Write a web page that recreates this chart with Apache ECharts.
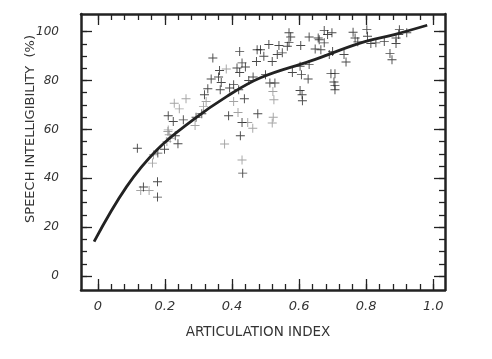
<!DOCTYPE html>
<html>
<head>
<meta charset="utf-8">
<script src="https://cdn.jsdelivr.net/npm/echarts@6/dist/echarts.min.js"></script>
<style>
  html, body { margin: 0; padding: 0; background: #fff; }
  #chart { width: 492px; height: 359px; }
</style>
</head>
<body>
<div id="chart"></div>
<script>
// tick labels
const X_TICKS = [0, 0.2, 0.4, 0.6, 0.8, 1.0];
const X_LABELS = ['0', '0.2', '0.4', '0.6', '0.8', '1.0'];
const Y_TICKS = [0, 20, 40, 60, 80, 100];

// measured points, dark crosses  [articulation index, intelligibility %]
const darkPoints = [
  [0.343, 89.2], [0.363, 84.1], [0.360, 81.4], [0.338, 80.6], [0.368, 79.2],
  [0.328, 76.6], [0.365, 76.2], [0.318, 74.2], [0.210, 65.6], [0.225, 63.2],
  [0.255, 63.9], [0.293, 65.0], [0.310, 66.4], [0.231, 57.4], [0.239, 54.1],
  [0.118, 52.3], [0.199, 51.9], [0.179, 50.3], [0.178, 38.6], [0.136, 36.4],
  [0.178, 32.3], [0.390, 65.6], [0.477, 66.4], [0.430, 62.8], [0.425, 57.4],
  [0.432, 42.1], [0.570, 99.5], [0.575, 97.8], [0.570, 95.6], [0.630, 97.8],
  [0.657, 97.4], [0.510, 94.7], [0.540, 94.3], [0.565, 94.0], [0.605, 94.3],
  [0.648, 92.9], [0.423, 91.9], [0.475, 92.6], [0.485, 92.6], [0.550, 91.3],
  [0.495, 89.9], [0.535, 90.6], [0.473, 87.8], [0.520, 87.8], [0.430, 87.2],
  [0.415, 85.1], [0.440, 85.5], [0.423, 83.3], [0.500, 82.4], [0.463, 81.4],
  [0.450, 80.0], [0.405, 78.3], [0.393, 76.9], [0.420, 76.2], [0.513, 79.0],
  [0.528, 79.0], [0.603, 85.8], [0.630, 86.5], [0.580, 83.3], [0.607, 82.4],
  [0.627, 80.6], [0.603, 75.9], [0.609, 74.2], [0.610, 71.7], [0.437, 72.5],
  [0.675, 100.5], [0.698, 99.5], [0.685, 98.8], [0.660, 96.7], [0.675, 95.4],
  [0.665, 92.6], [0.761, 99.7], [0.767, 97.4], [0.775, 95.8], [0.802, 100.8],
  [0.804, 98.1], [0.814, 95.1], [0.829, 95.4], [0.854, 96.0], [0.899, 100.8],
  [0.897, 98.8], [0.889, 97.4], [0.921, 99.5], [0.889, 95.1], [0.871, 91.0],
  [0.877, 88.5], [0.700, 91.9], [0.690, 90.6], [0.734, 90.6], [0.740, 87.6],
  [0.695, 82.8], [0.707, 82.8], [0.704, 79.4], [0.707, 78.0], [0.707, 76.2]
];

// measured points, light crosses
const lightPoints = [
  [0.263, 72.5], [0.228, 70.7], [0.243, 68.4], [0.323, 71.4], [0.315, 69.3],
  [0.290, 61.6], [0.210, 59.8], [0.209, 59.1], [0.213, 57.8], [0.216, 56.4],
  [0.206, 55.0], [0.166, 49.6], [0.163, 46.2], [0.128, 35.0], [0.153, 35.0],
  [0.378, 54.0], [0.418, 66.9], [0.523, 65.0], [0.520, 62.6], [0.447, 62.8],
  [0.462, 60.5], [0.430, 47.5], [0.383, 84.7], [0.522, 75.5], [0.525, 72.1],
  [0.405, 71.4]
];

// fitted curve
const curvePoints = [
  [-0.011, 14.1], [0.086, 36.6], [0.176, 51.6], [0.284, 63.9], [0.385, 73.5],
  [0.485, 81.1], [0.635, 88.0], [0.784, 95.4], [0.884, 98.8], [0.982, 102.6]
];

const XMIN = -0.05, XMAX = 1.035;
const YMIN = -5.7, YMAX = 107.2;

let xMinor = [];
for (let i = 0; i <= 26; i++) xMinor.push(+(i * 0.04).toFixed(2));
let yMinor = [];
for (let i = 0; i <= 20; i++) yMinor.push(i * 5);

const INK = '#222';
const FONT = 'DejaVu Sans';
const CROSS = 'path://M4.3,0H5.3V4.3H9.6V5.3H5.3V9.6H4.3V5.3H0V4.3H4.3Z';

function xAxisDef(pos, major, withLine) {
  return {
    type: 'value', position: pos, min: XMIN, max: XMAX,
    axisLine: { show: withLine, onZero: false, lineStyle: { color: INK, width: 2.5 } },
    axisTick: { show: true, inside: true, length: major ? 11 : 6,
      customValues: major ? X_TICKS : xMinor, lineStyle: { color: INK, width: 1.3 } },
    axisLabel: { show: pos === 'bottom' && major, customValues: X_TICKS, margin: 10,
      color: '#333', fontFamily: FONT, fontStyle: 'italic', fontSize: 13,
      formatter: v => X_LABELS[X_TICKS.indexOf(Math.round(v * 10) / 10)] },
    splitLine: { show: false }
  };
}
function yAxisDef(pos, major, withLine) {
  return {
    type: 'value', position: pos, min: YMIN, max: YMAX,
    axisLine: { show: withLine, onZero: false, lineStyle: { color: INK, width: 2.5 } },
    axisTick: { show: true, inside: true, length: major ? 11 : 6,
      customValues: major ? Y_TICKS : yMinor, lineStyle: { color: INK, width: 1.3 } },
    axisLabel: { show: pos === 'left' && major, customValues: Y_TICKS, margin: 22,
      color: '#333', fontFamily: FONT, fontStyle: 'italic', fontSize: 12 },
    splitLine: { show: false }
  };
}

const chart = echarts.init(document.getElementById('chart'), null, { renderer: 'canvas' });

chart.setOption({
  animation: false,
  backgroundColor: '#fff',
  grid: { left: 81, right: 47, top: 14, bottom: 69 },
  xAxis: [xAxisDef('bottom', true, true), xAxisDef('bottom', false, false),
          xAxisDef('top', true, true), xAxisDef('top', false, false)],
  yAxis: [yAxisDef('left', true, true), yAxisDef('left', false, false),
          yAxisDef('right', true, true), yAxisDef('right', false, false)],
  graphic: [{
    type: 'text', x: 258, y: 332,
    style: { text: 'ARTICULATION INDEX', fill: '#333', font: '13.5px "DejaVu Sans"',
      align: 'center', verticalAlign: 'middle' }
  }, {
    type: 'text', x: 31, y: 129, rotation: Math.PI / 2,
    style: { text: 'SPEECH INTELLIGIBILITY  (%)', fill: '#333', font: '13px "DejaVu Sans"',
      align: 'center', verticalAlign: 'middle' }
  }],
  series: [
    { type: 'scatter', data: lightPoints, symbol: CROSS, symbolSize: 9,
      itemStyle: { color: '#8c8c8c' }, z: 2 },
    { type: 'scatter', data: darkPoints, symbol: CROSS, symbolSize: 9,
      itemStyle: { color: '#1c1c1c' }, z: 3 },
    { type: 'line', data: curvePoints, smooth: 0.4, showSymbol: false,
      lineStyle: { color: INK, width: 2.8 }, z: 4 }
  ]
});
</script>
</body>
</html>
